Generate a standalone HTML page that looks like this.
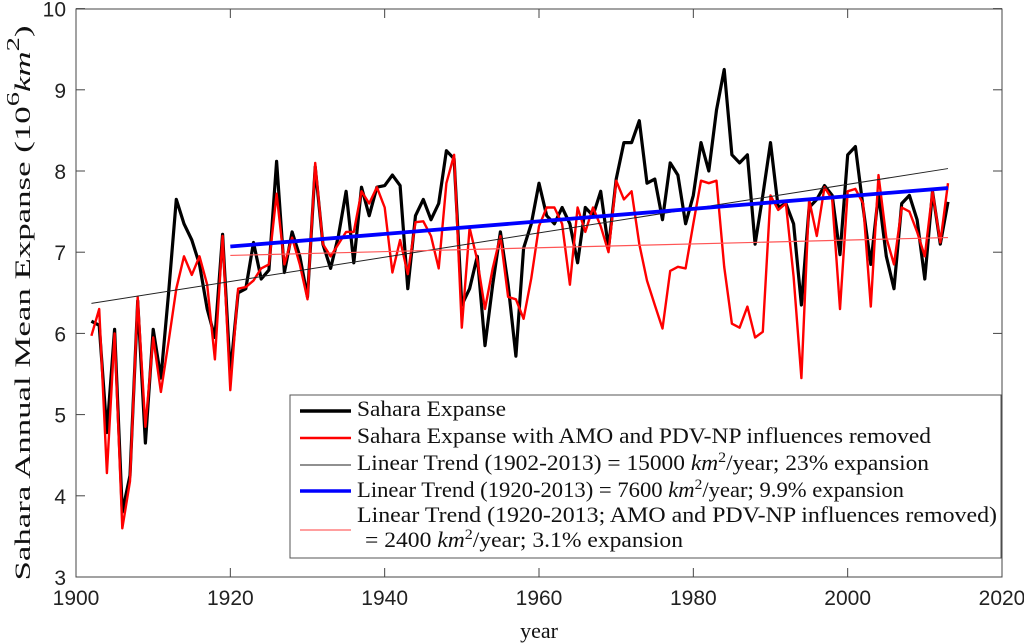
<!DOCTYPE html>
<html><head><meta charset="utf-8"><style>
html,body{margin:0;padding:0;background:#fff;}
svg{display:block;}
.tk{font-family:"Liberation Sans",sans-serif;font-size:21px;fill:#222;}
.lg{font-family:"Liberation Serif",serif;font-size:22px;fill:#111;}
</style></head><body>
<svg id="s" width="1024" height="644" xmlns="http://www.w3.org/2000/svg">
<rect x="76" y="9" width="926" height="568" fill="#fff" stroke="#444" stroke-width="1"/>
<g id="ticks" stroke="#444" stroke-width="1"></g>
<g id="labels"></g>
<g id="plot" fill="none" stroke-linejoin="round"></g>
<text class="lg" font-size="30" transform="translate(30,303) rotate(-90)" text-anchor="middle" textLength="555" lengthAdjust="spacingAndGlyphs">Sahara Annual Mean Expanse (10<tspan font-size="18" dy="-11">6</tspan><tspan dy="11" font-style="italic">km</tspan><tspan font-size="18" dy="-11">2</tspan><tspan dy="11">)</tspan></text>
<text class="lg" font-size="26" x="539" y="638" text-anchor="middle">year</text>
<rect x="290" y="395" width="711" height="163" fill="#fff" stroke="#555" stroke-width="1"/>
<line x1="300" y1="411" x2="351" y2="411" stroke="#000" stroke-width="3.5"/>
<line x1="300" y1="438" x2="351" y2="438" stroke="#f00" stroke-width="2.5"/>
<line x1="300" y1="465" x2="351" y2="465" stroke="#222" stroke-width="1"/>
<line x1="300" y1="491" x2="351" y2="491" stroke="#00f" stroke-width="3.5"/>
<line x1="300" y1="530" x2="351" y2="530" stroke="#f66" stroke-width="1.2"/>
<text class="lg" x="357" y="416" textLength="149" lengthAdjust="spacingAndGlyphs">Sahara Expanse</text>
<text class="lg" x="357" y="443" textLength="574" lengthAdjust="spacingAndGlyphs">Sahara Expanse with AMO and PDV-NP influences removed</text>
<text class="lg" x="357" y="470" textLength="572" lengthAdjust="spacingAndGlyphs">Linear Trend (1902-2013) = 15000 <tspan font-style="italic">km</tspan><tspan font-size="15" dy="-8">2</tspan><tspan dy="8">/year; 23% expansion</tspan></text>
<text class="lg" x="357" y="497" textLength="547" lengthAdjust="spacingAndGlyphs">Linear Trend (1920-2013) = 7600 <tspan font-style="italic">km</tspan><tspan font-size="15" dy="-8">2</tspan><tspan dy="8">/year; 9.9% expansion</tspan></text>
<text class="lg" x="357" y="522" textLength="640" lengthAdjust="spacingAndGlyphs">Linear Trend (1920-2013; AMO and PDV-NP influences removed)</text>
<text class="lg" x="365" y="547" textLength="318" lengthAdjust="spacingAndGlyphs">= 2400 <tspan font-style="italic">km</tspan><tspan font-size="15" dy="-8">2</tspan><tspan dy="8">/year; 3.1% expansion</tspan></text>
</svg>
<script>
var X=function(yr){return 76+(yr-1900)*926/120;};
var Y=function(v){return 577-(v-3)*81.2;};
var NS="http://www.w3.org/2000/svg";
function el(p,t,a,txt){var e=document.createElementNS(NS,t);for(var k in a)e.setAttribute(k,a[k]);if(txt!==undefined)e.textContent=txt;p.appendChild(e);return e;}
var tg=document.getElementById('ticks'),lb=document.getElementById('labels'),pg=document.getElementById('plot');
for(var yr=1900;yr<=2020;yr+=20){var x=X(yr);el(tg,'line',{x1:x,y1:577,x2:x,y2:568});el(tg,'line',{x1:x,y1:9,x2:x,y2:18});el(lb,'text',{x:x,y:605,'class':'tk','text-anchor':'middle'},yr);}
for(var v=3;v<=10;v++){var y=Y(v);el(tg,'line',{x1:76,y1:y,x2:85,y2:y});el(tg,'line',{x1:1002,y1:y,x2:993,y2:y});el(lb,'text',{x:66,y:y+8,'class':'tk','text-anchor':'end'},v);}
var B=[6.15,6.1,4.78,6.05,3.8,4.25,6.4,4.65,6.05,5.45,6.5,7.65,7.35,7.15,6.85,6.3,5.95,7.22,5.5,6.5,6.55,7.12,6.67,6.78,8.12,6.75,7.25,6.95,6.45,8.05,7.1,6.8,7.2,7.75,6.87,7.8,7.45,7.8,7.82,7.95,7.82,6.55,7.45,7.65,7.4,7.6,8.25,8.15,6.35,6.55,6.95,5.85,6.6,7.25,6.6,5.72,7.05,7.35,7.85,7.45,7.35,7.55,7.35,6.87,7.55,7.45,7.75,7.05,7.9,8.35,8.35,8.62,7.85,7.9,7.4,8.1,7.95,7.35,7.7,8.35,8.0,8.75,9.25,8.2,8.1,8.2,7.1,7.7,8.35,7.55,7.6,7.35,6.35,7.55,7.65,7.82,7.7,6.97,8.2,8.3,7.55,6.85,7.72,6.95,6.55,7.6,7.7,7.4,6.67,7.75,7.1,7.62];
var R=[5.97,6.3,4.28,6.0,3.6,4.18,6.45,4.85,5.95,5.28,5.9,6.55,6.95,6.72,6.95,6.6,5.68,7.2,5.3,6.55,6.57,6.65,6.8,6.85,7.72,6.85,7.18,6.85,6.42,8.1,7.1,6.95,7.1,7.25,7.25,7.75,7.6,7.8,7.55,6.75,7.15,6.73,7.37,7.38,7.2,6.8,7.85,8.2,6.07,7.3,6.9,6.3,6.8,7.2,6.45,6.42,6.18,6.68,7.32,7.55,7.55,7.35,6.6,7.55,7.25,7.55,7.32,7.0,7.88,7.65,7.75,7.1,6.65,6.35,6.06,6.77,6.82,6.8,7.35,7.88,7.85,7.88,6.82,6.12,6.07,6.33,5.95,6.02,7.7,7.52,7.6,6.7,5.45,7.65,7.2,7.8,7.65,6.3,7.75,7.78,7.6,6.33,7.95,7.18,6.85,7.55,7.5,7.25,6.95,7.75,7.12,7.85];
function pts(a){return a.map(function(v,i){return X(1902+i).toFixed(1)+','+Y(v).toFixed(1);}).join(' ');}
el(pg,'polyline',{points:pts(B),stroke:'#000','stroke-width':3.2});
el(pg,'polyline',{points:pts(R),stroke:'#f00','stroke-width':2.4});
el(pg,'line',{x1:X(1902),y1:Y(6.37),x2:X(2013),y2:Y(8.03),stroke:'#222','stroke-width':1});
el(pg,'line',{x1:X(1920),y1:Y(6.96),x2:X(2013),y2:Y(7.18),stroke:'#f55','stroke-width':1.2});
el(pg,'line',{x1:X(1920),y1:Y(7.07),x2:X(2013),y2:Y(7.79),stroke:'#00f','stroke-width':3.8});
</script>
</body></html>
